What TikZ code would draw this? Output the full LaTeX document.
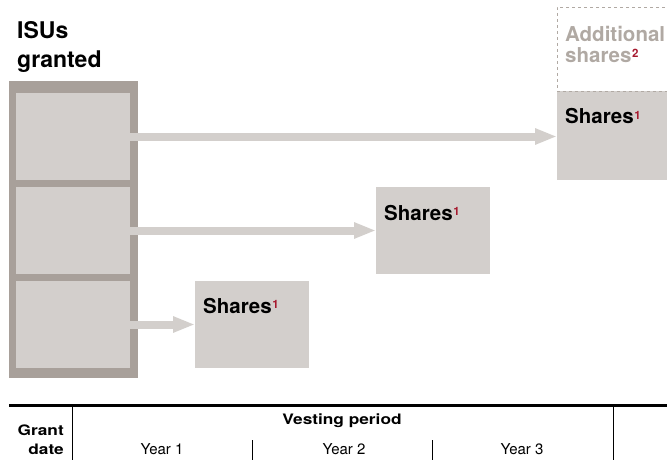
\documentclass[tikz,border=0pt]{standalone}
\usepackage{fontspec}
\setmainfont{TeX Gyre Heros}
\newfontfamily\widefont[FakeStretch=1.2]{TeX Gyre Heros}
\usetikzlibrary{arrows.meta}
\definecolor{boxgray}{HTML}{D3CFCC}
\definecolor{framegray}{HTML}{A8A09A}
\definecolor{textgray}{HTML}{B0A9A3}
\definecolor{supred}{HTML}{A6192E}
\newcommand\supnum[1]{\hspace{0.6pt}\raisebox{5pt}{\fontsize{11.5}{11.5}\selectfont\bfseries\color{supred}#1}}
\tikzset{
  blk/.style={anchor=north west, inner sep=0pt, outer sep=0pt, fill=boxgray, draw=none},
  frm/.style={anchor=north west, inner sep=0pt, outer sep=0pt, fill=framegray, draw=none},
  big/.style={anchor=base west, inner sep=0pt, font=\fontsize{20.5}{24}\selectfont\bfseries},
  head/.style={anchor=base west, inner sep=0pt, font=\fontsize{23}{27}\selectfont\bfseries},
  arr/.style={draw=boxgray, line width=8pt, -{Triangle[length=22pt,width=15pt]}},
  tbold/.style={inner sep=0pt, font=\fontsize{14.4}{16}\selectfont\widefont\bfseries},
  treg/.style={inner sep=0pt, font=\fontsize{15}{17}\selectfont},
  thick rule/.style={line width=3pt, draw=black},
  thin rule/.style={line width=1pt, draw=black}
}
\begin{document}
\begin{tikzpicture}[x=1pt,y=-1pt]
\useasboundingbox (0,0) rectangle (667,460);
% title
\node[head] (t1) at (17,39) {ISUs};
\node[head] (t2) at (17,68) {granted};
% frame and inner boxes
\node[frm, minimum width=129.5pt, minimum height=297pt] (frame) at (8.5,81) {};
\node[blk, minimum width=114pt, minimum height=87pt] (b1) at (16,93) {};
\node[blk, minimum width=114pt, minimum height=87pt] (b2) at (16,187) {};
\node[blk, minimum width=114pt, minimum height=87pt] (b3) at (16,281) {};
% shares boxes
\node[blk, minimum width=114pt, minimum height=89pt] (s1) at (557,91) {};
\node[blk, minimum width=114pt, minimum height=87pt] (s2) at (376,187) {};
\node[blk, minimum width=114pt, minimum height=87pt] (s3) at (195,281) {};
\node[anchor=north west, inner sep=0pt, outer sep=0pt, draw=textgray, dashed, line width=0.8pt, minimum width=114pt, minimum height=84pt] (add) at (557,7) {};
% labels
\node[big] (l1) at (565,124) {Shares\supnum{1}};
\node[big] (l2) at (384,220) {Shares\supnum{1}};
\node[big] (l3) at (203,313) {Shares\supnum{1}};
\node[big, text=textgray] (a1) at (565,42) {Additional};
\node[big, text=textgray] (a2) at (565,63) {shares\supnum{2}};
% arrows
\draw[arr] (b1.east) -- (b1.east -| s1.west);
\draw[arr] (b2.east) -- (b2.east -| s2.west);
\draw[arr] (b3.east) -- (b3.east -| s3.west);
% table
\coordinate (r0) at (9,405.5);
\coordinate (r1) at (667,405.5);
\coordinate (v1t) at (72,405.5);
\coordinate (v1b) at (72,460);
\coordinate (v2t) at (613,405.5);
\coordinate (v2b) at (613,460);
\coordinate (v3t) at (252,440);
\coordinate (v3b) at (252,460);
\coordinate (v4t) at (432,440);
\coordinate (v4b) at (432,460);
\draw[thin rule] (v1t) -- (v1b);
\draw[thin rule] (v2t) -- (v2b);
\draw[thin rule] (v3t) -- (v3b);
\draw[thin rule] (v4t) -- (v4b);
\draw[thick rule] (r0) -- (r1);
\node[tbold, anchor=base east] (g1) at (64,435) {Grant};
\node[tbold, anchor=base east] (g2) at (64,454) {date};
\node[tbold, anchor=base] (vp) at (342,424) {Vesting period};
\node[treg, anchor=base] (y1) at (162,454) {Year 1};
\node[treg, anchor=base] (y2) at (344,454) {Year 2};
\node[treg, anchor=base] (y3) at (522,454) {Year 3};
\end{tikzpicture}
\end{document}
